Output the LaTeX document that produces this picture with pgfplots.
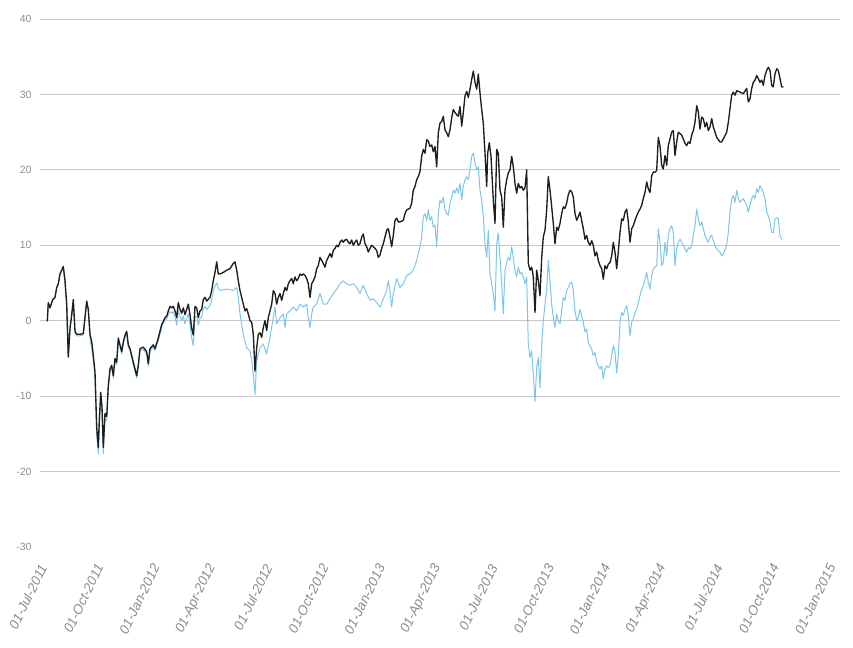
\documentclass[border=0pt]{standalone}
\usepackage{fontspec}
\setmainfont{Liberation Sans}
\usepackage{pgfplots}
\pgfplotsset{compat=1.18}
\definecolor{gridc}{RGB}{200,200,200}
\definecolor{labc}{RGB}{140,140,140}
\definecolor{blk}{RGB}{30,30,30}
\definecolor{lblue}{RGB}{125,198,235}
\begin{document}
\begin{tikzpicture}
\useasboundingbox (-40bp,-101bp) rectangle (813bp,547bp);
\begin{axis}[
  scale only axis, width=800bp, height=528bp,
  xmin=40, xmax=840, ymin=-30, ymax=40,
  axis line style={draw=none}, tick style={draw=none},
  ytick={-20,-10,0,10,20,30,40},
  extra y ticks={-30}, extra y tick style={grid=none},
  ymajorgrids, major grid style={color=gridc, line width=0.9bp},
  /pgf/number format/assume math mode=true,
  yticklabel style={font=\fontsize{10.5bp}{12bp}\selectfont, text=labc, xshift=-5bp},
  xtick={45,101.3,157.6,213.9,270.2,326.5,382.8,439.1,495.4,551.7,608,664.3,720.6,776.9,833.2},
  xticklabels={01-Jul-2011,01-Oct-2011,01-Jan-2012,01-Apr-2012,01-Jul-2012,01-Oct-2012,01-Jan-2013,01-Apr-2013,01-Jul-2013,01-Oct-2013,01-Jan-2014,01-Apr-2014,01-Jul-2014,01-Oct-2014,01-Jan-2015},
  xticklabel style={yshift=-15bp, rotate=64, anchor=east, font=\fontsize{13.5bp}{15bp}\selectfont\itshape, text=labc},
]
% light blue series
\addplot[color=lblue, line width=1bp, line join=round] coordinates {
(47.3,-0.1)(48.3,2.4)(50,1.7)(52.7,2.8)(55,3.1)(56.7,4.4)(58.3,4.9)(60,6.2)(61.7,6.7)(63.3,7.0)(65,5.1)(66.7,2.0)(68.3,-4.9)(70,-1.2)(71.7,0.6)(73.3,2.6)(75,-1.6)(76.7,-2.0)(80,-2.0)(83.3,-1.9)(86.7,2.4)(88.3,1.3)(90,-2.2)(91.7,-3.6)(93.3,-5.2)(95,-7.6)(96.7,-15.2)(98.3,-17.6)(99.3,-14.0)(100.7,-10.3)(102,-12.2)(103.3,-17.6)(105,-13.0)(106.7,-13.2)(108.3,-9.0)(110,-6.8)(111.7,-6.2)(113.3,-7.6)(115,-5.3)(116.7,-5.8)(118.3,-2.6)(120,-3.5)(121.7,-4.4)(123.3,-3.1)(125,-2.2)(126.7,-1.7)(128.3,-3.5)(130,-4.0)(133.3,-5.8)(135,-6.7)(136.7,-7.6)(138.3,-6.2)(140,-4.0)(143.3,-3.8)(146.7,-4.4)(148.3,-6.0)(150,-4.0)(153.3,-3.5)(155,-4.0)(158.3,-2.6)(160,-1.8)(161.7,-0.9)
(163.3,-0.3)(165,0.1)(166.7,0.2)(168.3,0.8)(170,1.2)(171.7,1.0)(173.3,1.2)(175,0.5)(176.7,-0.6)(178.3,1.4)(180,0.6)(181.7,0.0)(183.3,0.6)(185,-0.4)(186.7,0.3)(188.3,0.9)(190,-0.5)(191.7,-2.3)(193.3,-3.3)(195,0.6)(196.7,0.5)(198.3,-0.6)(200,0.3)(201.7,0.5)(203.3,1.6)(205,1.9)(206.7,1.5)(210,2.0)(211.7,2.8)(213.3,3.8)(215,4.6)(216.7,5.0)(218.3,4.3)
(220,4.0)(226.7,4.2)(233.3,4.0)(236.7,4.4)(238.3,3.1)(240,0.9)(243.3,-1.8)(246.7,-3.6)(250,-4.0)(251.7,-5.3)(253.3,-7.1)(255,-9.8)(256.7,-5.3)(258.3,-4.4)(260,-3.6)(263.3,-3.1)(266.7,-4.4)(270,-2.2)(273.3,0.4)(275,1.8)(276.7,-0.4)(280,0.4)(283.3,0.9)(285,-0.9)(286.7,0.9)(290,1.3)(293.3,1.8)(296.7,1.3)(300,2.2)(303.3,1.8)(306.7,2.2)(308.3,0.4)(310,-0.9)(311.7,0.9)(313.3,1.8)(316.7,2.2)(320,3.6)(323.3,2.2)(326.7,2.2)(330,2.9)(333.3,3.6)(336.7,4.2)(340,4.9)(343.3,5.3)(346.7,4.9)(350,4.7)(353.3,4.9)(356.7,4.4)(360,3.6)(363.3,4.7)(366.7,3.6)(370,2.7)(373.3,2.9)(376.7,2.4)(380,1.8)(383.3,2.9)(386.7,4.0)(388.3,5.3)(390,4.0)(391.7,1.8)(393.3,3.6)(396.7,5.6)
(400,4.4)(403.3,4.9)(406.7,6.0)(410,6.2)(413.3,6.7)(416.7,8.0)(418.3,8.9)(420,9.8)(421.7,11.1)(423.3,13.8)(425,14.2)(426.7,13.3)(428.3,14.7)(430,13.3)(431.7,13.8)(433.3,12.4)(435,12.7)(436.7,9.8)(438.3,14.2)(440,16.0)(441.7,15.6)(443.3,16.4)(445,14.7)(446.7,14.2)(448.3,14.0)(450,15.6)(451.7,16.4)(453.3,17.3)(455,16.9)(456.7,17.6)(458.3,16.9)(460,18.2)(461.7,16.0)(463.3,17.8)(465,18.7)(466.7,19.1)(468.3,18.7)(470,20.0)(471.7,21.8)(473.3,22.2)(475,20.9)(476.7,20.0)(478.3,20.4)(480,17.3)(481.7,16.0)(483.3,13.8)(485,10.2)(486.7,8.4)(488.3,12.0)(490,6.2)(493.3,3.6)(495,1.3)(496.7,10.2)(498.3,11.6)(500,8.4)(501.7,4.9)(503.3,0.9)(505,6.7)(506.7,7.6)(508.3,8.4)(510,8.0)(511.7,9.8)(513.3,8.4)(515,6.7)(516.7,5.8)(518.3,7.1)(520,6.2)(521.7,6.4)(523.3,5.8)(525,4.9)(526.7,5.8)(528.3,-3.1)(530,-4.9)(531.7,-4.0)(533.3,-7.1)(535,-10.7)(536.7,-6.2)(538.3,-4.9)(540,-8.9)(541.7,-3.1)(543.3,0)(545,2.2)(546.7,4.0)(548.3,8.0)(550,5.3)(551.7,2.2)(553.3,0.4)(555,-0.9)(556.7,0.9)(558.3,0)(560,-0.4)(561.7,1.3)(563.3,3.1)(565,2.7)(566.7,4.0)(568.3,4.4)(570,4.9)(571.7,5.1)(573.3,4.0)(575,1.3)(576.7,0)(578.3,0.4)
(580,1.5)(583.3,-0.2)(585,-1.5)(586.7,-1.1)(588.3,-2.9)(590,-3.3)(591.7,-3.8)(593.3,-4.6)(595,-4.2)(596.7,-5.5)(598.3,-6.0)(600,-6.4)(601.7,-6.0)(603.3,-7.7)(605,-6.4)(606.7,-6.0)(608.3,-6.2)(610,-6.0)(611.7,-4.6)(613.3,-3.3)(615,-4.2)(616.7,-6.9)(618.3,-4.6)(620,-0.2)(621.7,1.1)(623.3,0.7)(625,1.5)(626.7,2.0)(628.3,0.7)(630,-2.0)(631.7,-0.2)(633.3,0.2)(635,1.1)(636.7,1.5)(638.3,2.4)(640,3.3)(641.7,4.2)(643.3,4.6)(645,5.5)(646.7,6.4)(648.3,5.1)(650,4.2)(651.7,6.0)(653.3,6.9)(655,7.1)(656.7,7.3)(658.3,12.2)(660,10.4)(661.7,7.3)(663.3,7.7)(665,10.4)(666.7,8.6)(668.3,11.3)(670,12.2)(671.7,12.6)(673.3,11.7)(675,7.3)(676.7,9.5)(678.3,10.4)(680,10.8)(681.7,10.4)(683.3,10.0)(685,9.5)(686.7,9.1)(688.3,9.7)(690,9.5)(691.7,10.0)(693.3,11.3)(695,12.6)(696.7,14.8)(698.3,13.5)(700,12.6)(701.7,13.1)(703.3,12.2)(705,11.3)(706.7,10.8)(708.3,10.4)(710,11.1)(711.7,11.3)(713.3,10.6)(715,10.0)(716.7,9.5)(720,9.1)(721.7,8.6)(723.3,8.8)(726.7,10.0)(728.3,11.7)(730,14.4)(731.7,16.2)(733.3,16.6)(735,15.7)(736.7,17.3)(738.3,16.2)(740,15.7)(743.3,16.2)(746.7,15.3)(748.3,14.4)(750,15.3)(751.7,16.2)(753.3,16.6)(755,16.2)(756.7,17.5)(758.3,17.0)(760,17.9)(761.7,17.5)(763.3,17.0)(765,16.2)(766.7,14.4)(768.3,13.9)(770,13.1)(771.7,11.7)(773.3,11.7)(775,13.5)(776.7,13.7)(778.3,13.5)(780,11.3)(781.7,10.8)
};
% black series
\addplot[color=blk, line width=1.35bp, line join=round] coordinates {
(47.3,-0.1)(48.3,2.4)(50,1.7)(52.7,2.8)(55,3.1)(56.7,4.4)(58.3,4.9)(60,6.2)(61.7,6.7)(63.3,7.2)(65,5.3)(66.7,2.2)(68.3,-4.8)(70,-1.0)(71.7,0.8)(73.3,2.8)(75,-1.4)(76.7,-1.8)(80,-1.8)(83.3,-1.7)(86.7,2.6)(88.3,1.5)(90,-1.8)(91.7,-2.8)(93.3,-4.6)(95,-6.8)(96.7,-14.1)(98.3,-16.8)(99.3,-13.2)(100.7,-9.5)(102,-11.4)(103.3,-16.8)(105,-12.3)(106.7,-12.7)(108.3,-8.6)(110,-6.4)(111.7,-5.9)(113.3,-7.3)(115,-5.0)(116.7,-5.5)(118.3,-2.3)(120,-3.2)(121.7,-4.1)(123.3,-2.8)(125,-1.9)(126.7,-1.4)(128.3,-3.2)(130,-3.7)(133.3,-5.5)(135,-6.4)(136.7,-7.3)(138.3,-5.9)(140,-3.7)(143.3,-3.5)(146.7,-4.1)(148.3,-5.7)(150,-3.7)(153.3,-3.2)(155,-3.7)(158.3,-2.3)(160,-1.4)(161.7,-0.5)(163.3,-0.1)(165,0.4)(166.7,0.6)(168.3,1.3)(170,1.9)(171.7,1.7)(173.3,1.9)(175,1.3)(176.7,0.4)(178.3,2.4)(180,1.5)(181.7,1.0)(183.3,1.7)(185,0.8)(186.7,1.5)(188.3,2.2)(190,0.8)(191.7,-1.0)(193.3,-1.9)(195,1.9)(196.7,1.7)(198.3,0.4)(200,1.3)(201.7,1.5)(203.3,2.8)(205,3.1)(206.7,2.6)(210,3.1)(211.7,4.0)(213.3,5.3)(215,6.4)(216.7,7.8)(218.3,6.2)
(220,6.2)(223.3,6.4)(226.7,6.7)(230,6.9)(233.3,7.6)(235,7.8)(236.7,6.7)(238.3,5.3)(240,4.0)(243.3,2.2)(245,1.3)(246.7,1.6)(248.3,0.9)(250,0)(251.7,-0.2)(253.3,-1.8)(255,-6.7)(256.7,-3.6)(258.3,-1.8)(260,-1.6)(261.7,-2.2)(263.3,-0.9)(265,0)(266.7,-1.3)(268.3,0.4)(270,1.3)(271.7,2.2)(273.3,4.0)(275,3.6)(276.7,2.2)(278.3,3.1)(280,3.6)(281.7,2.7)(283.3,3.6)(285,4.4)(286.7,4.0)(288.3,4.9)(290,5.3)(291.7,5.6)(293.3,4.9)(295,5.8)(296.7,5.3)(298.3,5.6)(300,6.2)(301.7,6.0)(303.3,6.2)(305,6.0)(306.7,5.6)(308.3,4.9)(310,3.1)(311.7,4.9)(313.3,5.3)(315,5.8)(316.7,6.9)(318.3,7.3)(320,8.4)(321.7,8.0)(323.3,7.6)(325,7.1)(326.7,8.0)(328.3,8.4)(330,8.9)(331.7,8.4)(333.3,9.3)(335,9.6)(336.7,10.0)(338.3,9.8)(340,10.4)(341.7,10.7)(343.3,10.4)(345,10.7)(346.7,10.8)(348.3,10.4)(350,10.2)(351.7,10.7)(353.3,10.0)(355,10.4)(356.7,10.7)(358.3,10.0)(360,10.2)(361.7,11.1)(363.3,11.5)(365,10.2)(366.7,9.8)(368.3,9.1)(370,9.6)(371.7,10.0)(373.3,9.8)(375,9.6)(376.7,9.3)(378.3,8.4)(380,8.7)(381.7,9.6)(383.3,10.2)(385,11.1)(386.7,12.0)(388.3,12.2)(390,11.1)(391.7,9.8)(393.3,11.3)(395,13.3)(396.7,13.6)(398.3,13.1)
(400,13.1)(403.3,13.3)(405,14.2)(406.7,14.7)(410,14.9)(411.7,15.6)(413.3,17.3)(415,17.8)(416.7,18.7)(418.3,19.1)(420,19.8)(421.7,21.8)(423.3,22.7)(425,22.2)(426.7,24.0)(428.3,23.8)(430,23.1)(431.7,23.3)(433.3,22.4)(435,23.1)(436.7,20.4)(438.3,24.9)(440,26.2)(441.7,26.4)(443.3,27.1)(445,25.3)(446.7,24.9)(448.3,24.4)(450,25.3)(451.7,26.9)(453.3,28.0)(455,27.6)(456.7,27.3)(458.3,27.1)(460,28.4)(461.7,25.8)(463.3,27.6)(465,29.8)(466.7,30.4)(468.3,29.6)(470,30.7)(471.7,32.0)(473.3,33.1)(475,31.6)(476.7,30.7)(478.3,32.7)(480,30.2)(481.7,28.0)(483.3,26.2)(485,22.2)(486.7,17.8)(487.7,22.2)(489.3,23.6)(491,21.8)(493.3,16.0)(495,12.9)(496.7,22.7)(498.3,22.2)(500,17.3)(501.7,16.4)(503.3,12.4)(505,17.3)(506.7,18.7)(508.3,19.6)(510,20.0)(511.7,21.8)(513.3,20.4)(515,18.2)(516.7,16.9)(518.3,18.2)(520,17.6)(521.7,17.8)(523.3,17.3)(525,17.6)(526.7,20.0)(528.3,7.6)(530,6.7)(531.7,7.1)(533.3,5.8)(535,1.1)(536.7,6.7)(538.3,5.3)(540,3.3)(541.7,8.4)(543.3,11.1)(545,12.0)(546.7,14.7)(548.3,19.1)(550,17.3)(551.7,15.1)(553.3,12.9)(555,10.2)(556.7,12.4)(558.3,12.0)(560,12.9)(561.7,14.2)(563.3,15.1)(565,14.9)(566.7,15.6)(568.3,16.7)(570,17.3)(571.7,17.1)(573.3,16.4)(575,14.2)(576.7,13.3)(578.3,13.8)
(580,14.4)(583.3,12.2)(585,10.8)(586.7,11.3)(588.3,10.4)(590,10.0)(591.7,10.6)(593.3,10.0)(595,8.6)(596.7,9.1)(598.3,8.0)(600,7.3)(601.7,6.9)(603.3,5.5)(605,7.3)(606.7,6.9)(608.3,7.5)(610,7.7)(611.7,8.6)(613.3,10.4)(615,9.1)(616.7,6.9)(618.3,9.1)(620,11.7)(621.7,13.5)(623.3,13.3)(625,14.4)(626.7,14.8)(628.3,13.1)(630,10.4)(631.7,12.2)(633.3,12.6)(635,13.3)(636.7,13.9)(638.3,14.4)(640,14.8)(641.7,15.3)(643.3,16.2)(645,17.0)(646.7,18.4)(648.3,17.5)(650,17.0)(651.7,19.2)(653.3,19.7)(655,19.7)(656.7,19.9)(658.3,24.3)(660,23.2)(661.7,20.6)(663.3,20.1)(665,21.9)(666.7,20.6)(668.3,23.2)(670,24.1)(671.7,25.0)(673.3,25.2)(675,21.9)(676.7,23.7)(678.3,25.0)(680,24.8)(681.7,24.6)(683.3,24.1)(685,23.5)(686.7,23.2)(688.3,23.7)(690,23.5)(691.7,24.6)(693.3,25.2)(695,26.3)(696.7,28.5)(698.3,27.7)(700,25.4)(701.7,27.0)(703.3,26.8)(705,25.7)(706.7,26.3)(708.3,25.2)(710,25.7)(711.7,26.8)(713.3,25.7)(715,25.0)(716.7,24.3)(720,23.7)(721.7,23.7)(723.3,24.1)(726.7,25.0)(728.3,26.3)(730,28.1)(731.7,29.9)(733.3,30.3)(735,29.9)(736.7,30.5)(740,30.3)(743.3,30.1)(746.7,30.8)(748.3,29.0)(750,29.4)(751.7,30.8)(753.3,31.6)(755,31.9)(756.7,32.5)(758.3,32.1)(760,31.6)(761.7,31.9)(763.3,31.2)(765,32.5)(766.7,33.2)(768.3,33.6)(770,33.2)(771.7,31.2)(773.3,31.0)(775,32.7)(776.7,33.4)(778.3,33.2)(780,32.1)(781.7,31.0)(783.3,31.0)
};
\end{axis}
\end{tikzpicture}
\end{document}
